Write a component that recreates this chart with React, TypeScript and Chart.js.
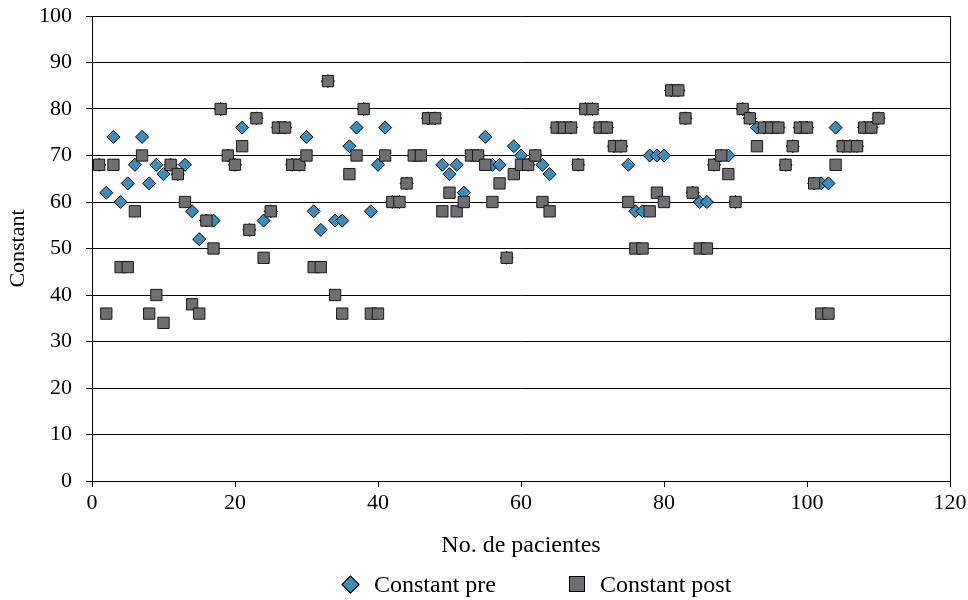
import React, { useEffect, useRef } from "react";
import { Chart, registerables } from "chart.js";

Chart.register(...registerables);

const patients = [
  1, 2, 3, 4, 5, 6, 7, 8, 9, 10,
  11, 12, 13, 14, 15, 16, 17, 18, 19, 20,
  21, 22, 23, 24, 25, 26, 27, 28, 29, 30,
  31, 32, 33, 34, 35, 36, 37, 38, 39, 40,
  41, 42, 43, 44, 45, 46, 47, 48, 49, 50,
  51, 52, 53, 54, 55, 56, 57, 58, 59, 60,
  61, 62, 63, 64, 65, 66, 67, 68, 69, 70,
  71, 72, 73, 74, 75, 76, 77, 78, 79, 80,
  81, 82, 83, 84, 85, 86, 87, 88, 89, 90,
  91, 92, 93, 94, 95, 96, 97, 98, 99, 100,
  101, 102, 103, 104, 105, 106, 107, 108, 109, 110,
];

const constantPre = [
  68, 62, 74, 60, 64, 68, 74, 64, 68, 66,
  68, 66, 68, 58, 52, 56, 56, 80, 70, 68,
  76, 54, 78, 56, 58, 76, 76, 68, 68, 74,
  58, 54, 86, 56, 56, 72, 76, 80, 58, 68,
  76, 60, 60, 64, 70, 70, 78, 78, 68, 66,
  68, 62, 70, 70, 74, 68, 68, 48, 72, 70,
  68, 70, 68, 66, 76, 76, 76, 68, 80, 80,
  76, 76, 72, 72, 68, 58, 58, 70, 70, 70,
  84, 84, 78, 62, 60, 60, 68, 70, 70, 60,
  80, 78, 76, 76, 76, 76, 68, 72, 76, 76,
  64, 64, 64, 76, 72, 72, 72, 76, 76, 78,
];

const constantPost = [
  68, 36, 68, 46, 46, 58, 70, 36, 40, 34,
  68, 66, 60, 38, 36, 56, 50, 80, 70, 68,
  72, 54, 78, 48, 58, 76, 76, 68, 68, 70,
  46, 46, 86, 40, 36, 66, 70, 80, 36, 36,
  70, 60, 60, 64, 70, 70, 78, 78, 58, 62,
  58, 60, 70, 70, 68, 60, 64, 48, 66, 68,
  68, 70, 60, 58, 76, 76, 76, 68, 80, 80,
  76, 76, 72, 72, 60, 50, 50, 58, 62, 60,
  84, 84, 78, 62, 50, 50, 68, 70, 66, 60,
  80, 78, 72, 76, 76, 76, 68, 72, 76, 76,
  64, 36, 36, 68, 72, 72, 72, 76, 76, 78,
];

const xTicks = [0, 20, 40, 60, 80, 100, 120];
const yTicks = [0, 10, 20, 30, 40, 50, 60, 70, 80, 90, 100];
const seriesNames = ["Constant pre", "Constant post"];
const xTitle = "No. de pacientes";
const yTitle = "Constant";

const FONT = "'Liberation Serif', 'Times New Roman', serif";
const PRE_COLOR = "#3B8DBB";
const POST_COLOR = "#6E6E73";

export default function App() {
  const ref = useRef<HTMLCanvasElement>(null);

  useEffect(() => {
    if (!ref.current) return;
    const frame = {
      id: "frame",
      beforeDatasetsDraw(chart: any) {
        const { ctx, chartArea } = chart;
        ctx.save();
        ctx.strokeStyle = "#000";
        ctx.lineWidth = 1;
        ctx.beginPath();
        ctx.moveTo(Math.round(chartArea.right) + 0.5, chartArea.top);
        ctx.lineTo(Math.round(chartArea.right) + 0.5, chartArea.bottom);
        ctx.stroke();
        ctx.restore();
      },
    };
    const chart = new Chart(ref.current, {
      type: "scatter",
      data: {
        datasets: [
          {
            label: seriesNames[0],
            data: patients.map((p, i) => ({ x: p, y: constantPre[i] })),
            pointStyle: "rectRot",
            pointRadius: 6.5,
            backgroundColor: PRE_COLOR,
            borderColor: "#000",
            borderWidth: 1,
            order: 2,
          },
          {
            label: seriesNames[1],
            data: patients.map((p, i) => ({ x: p, y: constantPost[i] })),
            pointStyle: "rect",
            pointRadius: 8,
            backgroundColor: POST_COLOR,
            borderColor: "#1a1a1a",
            borderWidth: 1,
            order: 1,
          },
        ],
      },
      options: {
        animation: false,
        responsive: false,
        devicePixelRatio: 1,
        layout: { padding: { top: 16, right: 18, left: 0, bottom: 39 } },
        plugins: { legend: { display: false }, tooltip: { enabled: false } },
        scales: {
          x: {
            type: "linear",
            min: 0,
            max: 120,
            afterBuildTicks: (s: any) => {
              s.ticks = xTicks.map((v) => ({ value: v }));
            },
            afterFit: (s: any) => {
              s.height = 80;
              s.paddingLeft = 0;
              s.paddingRight = 0;
            },
            ticks: {
              color: "#000",
              font: { family: FONT, size: 22 },
              padding: 3,
              maxRotation: 0,
            },
            grid: {
              drawOnChartArea: false,
              drawTicks: true,
              tickLength: 6,
              color: "#000",
            },
            border: { color: "#000", width: 1 },
            title: {
              display: true,
              text: xTitle,
              color: "#000",
              font: { family: FONT, size: 24 },
              padding: { top: 0, bottom: 1 },
            },
          },
          y: {
            min: 0,
            max: 100,
            afterBuildTicks: (s: any) => {
              s.ticks = yTicks.map((v) => ({ value: v }));
            },
            afterFit: (s: any) => {
              s.width = 92;
              s.paddingTop = 0;
              s.paddingBottom = 0;
            },
            ticks: {
              color: "#000",
              font: { family: FONT, size: 22 },
              padding: 14,
            },
            grid: {
              color: "#000",
              lineWidth: 1,
              drawTicks: true,
              tickLength: 6,
            },
            border: { color: "#000", width: 1 },
            title: {
              display: true,
              text: yTitle,
              color: "#000",
              font: { family: FONT, size: 22 },
              padding: { top: 5, bottom: 0 },
            },
          },
        },
      },
      plugins: [frame],
    });
    return () => chart.destroy();
  }, []);

  const legendText: React.CSSProperties = {
    position: "absolute",
    top: 570,
    height: 28,
    lineHeight: "28px",
    fontFamily: FONT,
    fontSize: 24,
    color: "#000",
    whiteSpace: "nowrap",
  };

  return (
    <div style={{ position: "absolute", left: 0, top: 0, width: 968, height: 600, background: "#fff" }}>
      <canvas ref={ref} width={968} height={600} style={{ display: "block" }} />
      <div
        style={{
          position: "absolute",
          left: 344,
          top: 578,
          width: 11,
          height: 11,
          background: PRE_COLOR,
          border: "1px solid #000",
          transform: "rotate(45deg)",
        }}
      />
      <span style={{ ...legendText, left: 374 }}>{seriesNames[0]}</span>
      <div
        style={{
          position: "absolute",
          left: 569,
          top: 576,
          width: 14,
          height: 14,
          background: POST_COLOR,
          border: "1px solid #000",
        }}
      />
      <span style={{ ...legendText, left: 600 }}>{seriesNames[1]}</span>
    </div>
  );
}
